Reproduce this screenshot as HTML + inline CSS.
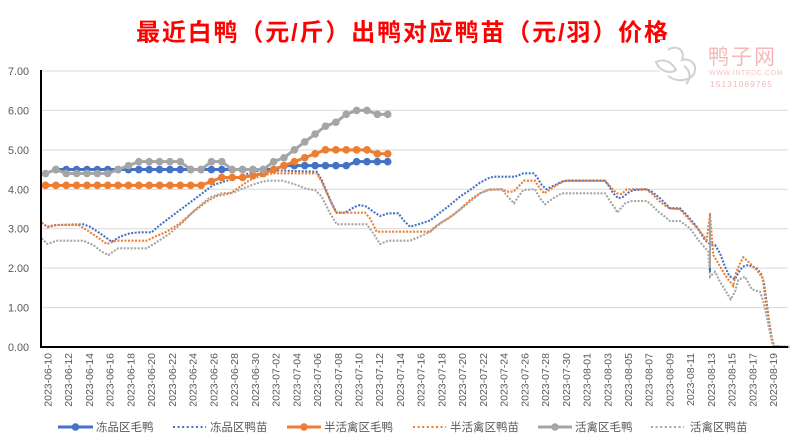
<!DOCTYPE html>
<html>
<head>
<meta charset="utf-8">
<style>
  html,body{margin:0;padding:0;background:#fff;}
  svg{display:block;}
  .t{font-family:"Liberation Sans","Noto Sans CJK SC",sans-serif;}
</style>
</head>
<body>
<svg width="800" height="444" viewBox="0 0 800 444" xmlns="http://www.w3.org/2000/svg">
  <defs>
    <marker id="mb" markerUnits="userSpaceOnUse" markerWidth="10" markerHeight="10" refX="5" refY="5"><circle cx="5" cy="5" r="3.8" fill="#4472C4"/></marker>
    <marker id="mo" markerUnits="userSpaceOnUse" markerWidth="10" markerHeight="10" refX="5" refY="5"><circle cx="5" cy="5" r="3.8" fill="#ED7D31"/></marker>
    <marker id="mg" markerUnits="userSpaceOnUse" markerWidth="10" markerHeight="10" refX="5" refY="5"><circle cx="5" cy="5" r="3.8" fill="#A5A5A5"/></marker>
  </defs>
  <rect width="800" height="444" fill="#fff"/>

  <!-- Title -->
  <text class="t" x="136" y="40.5" font-size="24" font-weight="bold" fill="#FF0000" textLength="532" lengthAdjust="spacing">最近白鸭（元/斤）出鸭对应鸭苗（元/羽）价格</text>

  <!-- gridlines -->
  <g stroke="#D9D9D9" stroke-width="1">
    <line x1="41" y1="71" x2="788" y2="71"/>
    <line x1="41" y1="110.4" x2="788" y2="110.4"/>
    <line x1="41" y1="149.9" x2="788" y2="149.9"/>
    <line x1="41" y1="189.3" x2="788" y2="189.3"/>
    <line x1="41" y1="228.7" x2="788" y2="228.7"/>
    <line x1="41" y1="268.1" x2="788" y2="268.1"/>
    <line x1="41" y1="307.6" x2="788" y2="307.6"/>
  </g>

  <!-- watermark -->
  <rect x="660" y="40" width="140" height="55" fill="#fff"/>
  <g fill="none" stroke="#d0d0d0" stroke-width="2">
    <path d="M668 50 C676 44 686 50 682 60 C690 58 698 64 694 74 C688 82 676 82 668 76"/>
    <path d="M656 62 C664 58 672 62 676 70 C670 74 660 72 656 62 Z"/>
    <path d="M684 66 C690 70 692 78 686 84"/>
  </g>
  <text class="t" x="708" y="64" font-size="21" fill="#F4B8B8" letter-spacing="2">鸭子网</text>
  <text class="t" x="709" y="75" font-size="7" fill="#F4C4C4" letter-spacing="0.6">WWW.INTEDC.COM</text>
  <text class="t" x="710" y="87" font-size="8.5" fill="#F4B8B8" letter-spacing="1">15131069765</text>

  <!-- y labels -->
  <g class="t" font-size="10.8" fill="#595959" text-anchor="end">
    <text x="29" y="75">7.00</text>
    <text x="29" y="114.4">6.00</text>
    <text x="29" y="153.9">5.00</text>
    <text x="29" y="193.3">4.00</text>
    <text x="29" y="232.7">3.00</text>
    <text x="29" y="272.1">2.00</text>
    <text x="29" y="311.6">1.00</text>
    <text x="29" y="351">0.00</text>
  </g>

  <!-- dotted series -->
  <g fill="none" stroke-width="2.1" stroke-dasharray="2 1.5">
    <polyline stroke="#4472C4" points="41.7,222.7 47.3,226.7 56.7,225 83.3,224.3 90,226.7 100,233.3 111.7,241.7 120,236.7 130,233.3 140,232.3 151.7,232.3 160,225 173.3,215 186.7,205 200,195 213.3,185 226.7,180.7 239,177 250,172.7 263.3,170 316.7,171.7 321.7,180 326.7,191.7 331.7,203.3 336.7,212.7 345,212.7 355,206.7 360,205 366.7,206.7 373.3,211.7 380,216 388.3,213.3 398.3,213.3 403.3,220 410,226.7 420,223.8 430,220.5 440,212.7 450,205 460,196.7 470,190 480,182.7 488.3,178.3 493.3,176.7 515,176.7 523.3,173.3 533.3,173.3 536.7,176.7 541.7,185 546.7,189.3 551.7,186.7 561.7,181.7 566.7,180.7 605,180.7 610,187.5 613.3,193.3 618.3,198.3 623.3,196.7 628.3,192.7 633.3,190 646.7,189.3 651.7,191.7 660,198.3 665,203.3 670,208.3 680,208.3 686.7,215 696.7,226.7 705,240 710,244 715,245 720,253.3 725,266.7 729.3,276 735,279.3 738.3,272.7 742.7,266.7 748.3,265 756.7,268.3 761.7,275 764,283.3 766.7,303.3 769.3,323.3 772.7,345 775,347 790,347"/>
    <polyline stroke="#ED7D31" points="41.7,222.7 47.3,227.3 56.7,225 78.3,225 86.7,230 96.7,236.7 106.7,244 116.7,240.7 146.7,240.7 155,236.7 166.7,231.7 180,223.3 193.3,211.7 206.7,201.7 216.7,196 230,193.5 240,186.7 250,180 263.3,175 273.3,173.3 316.7,173.3 321.7,181.7 330,200 336,212.7 365,212.7 370,218.3 376.7,231.7 430,231.7 435,226.7 450,217.3 460,209.3 470,200 480,193.3 488.3,190 501.7,189.3 506.7,191.7 513.3,191.7 520,185 524,180.7 535,180.7 538.3,186 544,193.3 548.3,190.7 556.7,185 565,180.7 605,180.7 611.7,188.3 616.7,193.3 621.7,194 626.7,189.3 646.7,189.3 653.3,195 660,201.7 666.7,206.7 670,208.3 680,209.3 686.7,216.7 698.3,229.3 706.7,240 710,215 713.3,255 718.3,263.3 725,275 730,281.7 733.3,286 736,273.3 739.3,265 743.3,257.3 748.3,261.7 756.7,270 762.7,278.3 765,296.7 768.3,316.7 771.7,336.7 774,346 790,347"/>
    <polyline stroke="#A5A5A5" points="41.7,238.3 47.3,244 56.7,240.7 83.3,240.7 93.3,245 101.7,251.7 108.3,255 118.3,248.3 146.7,248.3 155,243.3 170,233.3 183.3,221.7 196.7,208.3 210,197.3 221.7,193.3 233.3,192.7 243.3,188.3 256.7,183.3 266.7,180.7 283.3,180.7 296.7,185 306.7,189 315,190 321.7,196.7 330,213.3 336.7,224.3 366.7,224.3 373.3,233.3 380,244 388.3,240.7 410,240.7 420,236.5 430,232 440,223.3 453.3,215 470,201.7 480,193.3 490,189.3 501.7,189.3 508.3,197.3 514,203.3 518.3,196.7 523.3,190 535,189.3 540.7,199.3 545,204.3 553.3,198.3 561.7,193.3 605,193.3 610,201 615,208.3 617.3,212.7 620,209.3 625,203.3 631.7,201 646.7,201 651.7,205 658.3,211.7 665,216.7 670,221 680,221 690,228.3 698.3,240 708.3,251.7 710,276.7 715,271.7 720,281.7 725,290 730.7,299.3 735,291.7 738.3,280 745,276.7 751.7,289.3 760,291.7 763.3,301.7 766.7,316.7 770,333.3 773.3,346 790,347"/>
  </g>
  <!-- spike -->
  <line x1="710" y1="215" x2="710" y2="272" stroke="#A5A5A5" stroke-width="2"/>
  <rect x="709" y="213" width="2" height="3" fill="#ED7D31"/>
  <rect x="709" y="268" width="2" height="4" fill="#4472C4"/>

  <!-- marker series -->
  <polyline fill="none" stroke="#4472C4" stroke-width="3" stroke-linejoin="round" marker-start="url(#mb)" marker-mid="url(#mb)" marker-end="url(#mb)" points="55.87,169.56 66.24,169.56 76.61,169.56 86.98,169.56 97.35,169.56 107.72,169.56 118.09,169.56 128.46,169.56 138.83,169.56 149.2,169.56 159.57,169.56 169.94,169.56 180.31,169.56 190.68,169.56 201.05,169.56 211.42,169.56 221.79,169.56 232.16,169.56 242.53,169.56 252.9,169.56 263.27,169.56 273.64,169.56 284.01,165.62 294.38,165.62 304.75,165.62 315.12,165.62 325.49,165.62 335.86,165.62 346.23,165.62 356.6,161.68 366.97,161.68 377.34,161.68 387.71,161.68"/>
  <polyline fill="none" stroke="#ED7D31" stroke-width="3" stroke-linejoin="round" marker-start="url(#mo)" marker-mid="url(#mo)" marker-end="url(#mo)" points="45.5,185.34 55.87,185.34 66.24,185.34 76.61,185.34 86.98,185.34 97.35,185.34 107.72,185.34 118.09,185.34 128.46,185.34 138.83,185.34 149.2,185.34 159.57,185.34 169.94,185.34 180.31,185.34 190.68,185.34 201.05,185.34 211.42,181.39 221.79,177.45 232.16,177.45 242.53,177.45 252.9,175.48 263.27,173.51 273.64,169.56 284.01,165.62 294.38,161.68 304.75,157.74 315.12,153.79 325.49,149.85 335.86,149.85 346.23,149.85 356.6,149.85 366.97,149.85 377.34,153.79 387.71,153.79"/>
  <polyline fill="none" stroke="#A5A5A5" stroke-width="3" stroke-linejoin="round" marker-start="url(#mg)" marker-mid="url(#mg)" marker-end="url(#mg)" points="45.5,173.51 55.87,169.56 66.24,173.51 76.61,173.51 86.98,173.51 97.35,173.51 107.72,173.51 118.09,169.56 128.46,165.62 138.83,161.68 149.2,161.68 159.57,161.68 169.94,161.68 180.31,161.68 190.68,169.56 201.05,169.56 211.42,161.68 221.79,161.68 232.16,169.56 242.53,169.56 252.9,169.56 263.27,169.56 273.64,161.68 284.01,157.74 294.38,149.85 304.75,141.96 315.12,134.08 325.49,126.19 335.86,122.25 346.23,114.36 356.6,110.42 366.97,110.42 377.34,114.36 387.71,114.36"/>

  <!-- axes -->
  <line x1="41" y1="70" x2="41" y2="348" stroke="#000" stroke-width="2"/>
  <line x1="40" y1="347" x2="788" y2="347" stroke="#000" stroke-width="2"/>

  <!-- x labels -->
  <g class="t" font-size="10.5" fill="#595959" text-anchor="end">
    <text transform="translate(51.5,353) rotate(-90)">2023-06-10</text>
    <text transform="translate(72.23,353) rotate(-90)">2023-06-12</text>
    <text transform="translate(92.96,353) rotate(-90)">2023-06-14</text>
    <text transform="translate(113.7,353) rotate(-90)">2023-06-16</text>
    <text transform="translate(134.43,353) rotate(-90)">2023-06-18</text>
    <text transform="translate(155.16,353) rotate(-90)">2023-06-20</text>
    <text transform="translate(175.89,353) rotate(-90)">2023-06-22</text>
    <text transform="translate(196.62,353) rotate(-90)">2023-06-24</text>
    <text transform="translate(217.36,353) rotate(-90)">2023-06-26</text>
    <text transform="translate(238.09,353) rotate(-90)">2023-06-28</text>
    <text transform="translate(258.82,353) rotate(-90)">2023-06-30</text>
    <text transform="translate(279.55,353) rotate(-90)">2023-07-02</text>
    <text transform="translate(300.28,353) rotate(-90)">2023-07-04</text>
    <text transform="translate(321.02,353) rotate(-90)">2023-07-06</text>
    <text transform="translate(341.75,353) rotate(-90)">2023-07-08</text>
    <text transform="translate(362.48,353) rotate(-90)">2023-07-10</text>
    <text transform="translate(383.21,353) rotate(-90)">2023-07-12</text>
    <text transform="translate(403.94,353) rotate(-90)">2023-07-14</text>
    <text transform="translate(424.68,353) rotate(-90)">2023-07-16</text>
    <text transform="translate(445.41,353) rotate(-90)">2023-07-18</text>
    <text transform="translate(466.14,353) rotate(-90)">2023-07-20</text>
    <text transform="translate(486.87,353) rotate(-90)">2023-07-22</text>
    <text transform="translate(507.6,353) rotate(-90)">2023-07-24</text>
    <text transform="translate(528.34,353) rotate(-90)">2023-07-26</text>
    <text transform="translate(549.07,353) rotate(-90)">2023-07-28</text>
    <text transform="translate(569.8,353) rotate(-90)">2023-07-30</text>
    <text transform="translate(590.53,353) rotate(-90)">2023-08-01</text>
    <text transform="translate(611.26,353) rotate(-90)">2023-08-03</text>
    <text transform="translate(632,353) rotate(-90)">2023-08-05</text>
    <text transform="translate(652.73,353) rotate(-90)">2023-08-07</text>
    <text transform="translate(673.46,353) rotate(-90)">2023-08-09</text>
    <text transform="translate(694.19,353) rotate(-90)">2023-08-11</text>
    <text transform="translate(714.92,353) rotate(-90)">2023-08-13</text>
    <text transform="translate(735.66,353) rotate(-90)">2023-08-15</text>
    <text transform="translate(756.39,353) rotate(-90)">2023-08-17</text>
    <text transform="translate(777.12,353) rotate(-90)">2023-08-19</text>
  </g>

  <!-- legend -->
  <g>
    <line x1="58" y1="427" x2="93" y2="427" stroke="#4472C4" stroke-width="3"/>
    <circle cx="75.5" cy="427" r="3.8" fill="#4472C4"/>
    <line x1="173" y1="427" x2="206" y2="427" stroke="#4472C4" stroke-width="2.1" stroke-dasharray="2 2.6"/>
    <line x1="287" y1="427" x2="321" y2="427" stroke="#ED7D31" stroke-width="3"/>
    <circle cx="304" cy="427" r="3.8" fill="#ED7D31"/>
    <line x1="413" y1="427" x2="446" y2="427" stroke="#ED7D31" stroke-width="2.1" stroke-dasharray="2 2.6"/>
    <line x1="538" y1="427" x2="572" y2="427" stroke="#A5A5A5" stroke-width="3"/>
    <circle cx="555" cy="427" r="3.8" fill="#A5A5A5"/>
    <line x1="651" y1="427" x2="684" y2="427" stroke="#A5A5A5" stroke-width="2.1" stroke-dasharray="2 2.6"/>
  </g>
  <g class="t" font-size="11.5" fill="#595959">
    <text x="96" y="431">冻品区毛鸭</text>
    <text x="210" y="431">冻品区鸭苗</text>
    <text x="324" y="431">半活禽区毛鸭</text>
    <text x="450" y="431">半活禽区鸭苗</text>
    <text x="575" y="431">活禽区毛鸭</text>
    <text x="690" y="431">活禽区鸭苗</text>
  </g>
</svg>
</body>
</html>
